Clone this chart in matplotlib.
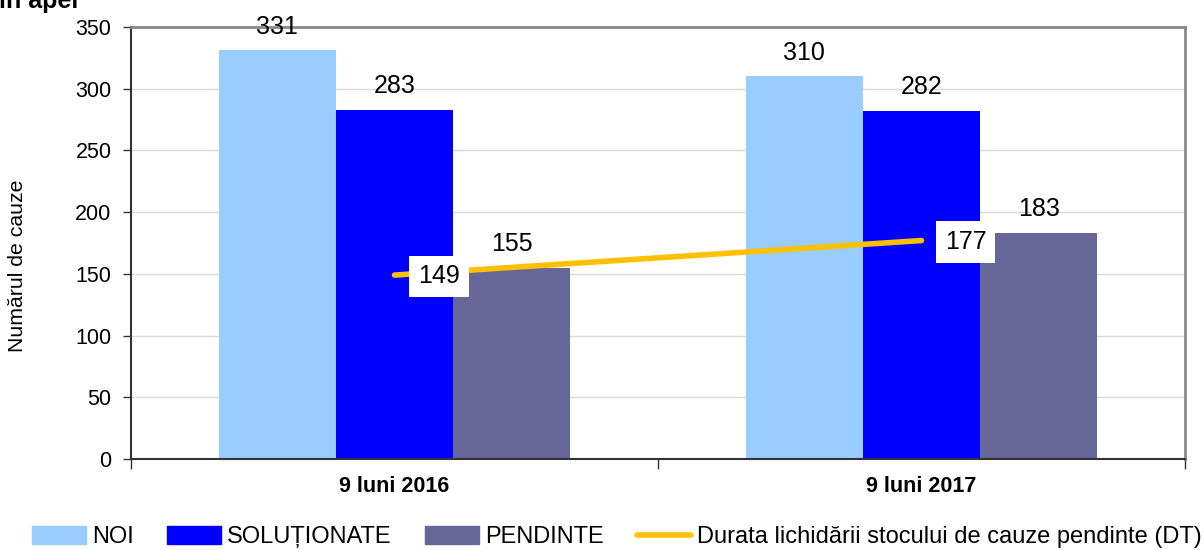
import matplotlib
matplotlib.use("Agg")
import matplotlib.pyplot as plt
import numpy as np
from matplotlib.lines import Line2D
from matplotlib.patches import Patch

plt.rcParams['font.family'] = ['Liberation Sans', 'DejaVu Sans']

categories = ["9 luni 2016", "9 luni 2017"]
noi = [331, 310]
solutionate = [283, 282]
pendinte = [155, 183]
durata = [149, 177]
series_names = ["NOI", "SOLUȚIONATE", "PENDINTE",
                "Durata lichidării stocului de cauze pendinte (DT)"]
yticks = [0, 50, 100, 150, 200, 250, 300, 350]

colors = ["#99CCFF", "#0000FF", "#666699"]
line_color = "#FFC000"

W, H = 1204, 550
fig = plt.figure(figsize=(W / 100, H / 100), dpi=100)
ax = fig.add_axes([131 / W, 1 - 459 / H, (1185 - 131) / W, (459 - 27) / H])

x = np.arange(len(categories)) + 0.5
bw = 117 / 526
for i, (vals, c) in enumerate(zip([noi, solutionate, pendinte], colors)):
    pos = x + (i - 1) * bw
    ax.bar(pos, vals, width=bw, color=c, zorder=2)
    for p, v in zip(pos, vals):
        ax.annotate(str(v), (p, v), xytext=(0, 12), textcoords="offset points",
                    ha="center", va="baseline", fontsize=18, color="black",
                    annotation_clip=False, zorder=5)

ax.plot(x, durata, color=line_color, lw=4, solid_capstyle="round", zorder=3)
for p, v in zip(x, durata):
    ax.annotate(str(v), (p, v), xytext=(17, -1), textcoords="offset points",
                ha="left", va="center", fontsize=18, color="black", zorder=6,
                bbox=dict(boxstyle="square,pad=0.35", fc="white", ec="none"))

ax.set_xlim(0, 2)
ax.set_ylim(0, 350)
ax.set_yticks(yticks)
ax.set_xticks(x)
ax.set_xticklabels(categories, fontweight="bold", fontsize=15.5)
ax.set_xticks([0, 1, 2], minor=True)
ax.tick_params(axis="x", which="major", length=0, pad=12)
ax.tick_params(axis="x", which="minor", length=7, width=1, color="#333333", direction="out")
ax.tick_params(axis="y", labelsize=15.5, length=6, width=1, color="#333333", direction="out", pad=8)
ax.yaxis.grid(True, color="#D9D9D9", lw=1, zorder=0)
ax.set_axisbelow(True)
ax.set_ylabel("Numărul de cauze", fontsize=15.3, va="center")
ax.yaxis.set_label_coords((18 - 131) / 1054, (459 - 266) / 432)

for s in ["top", "right"]:
    ax.spines[s].set_color("#888888")
    ax.spines[s].set_linewidth(2)
for s in ["left", "bottom"]:
    ax.spines[s].set_color("#333333")
    ax.spines[s].set_linewidth(1.5)

handles = [Patch(color=c) for c in colors] + [Line2D([0], [0], color=line_color, lw=4, solid_capstyle="round")]
fig.legend(handles, series_names, loc="center", bbox_to_anchor=(617 / W, 1 - 537 / H),
           ncol=4, frameon=False, fontsize=17, handlelength=2.3, handleheight=0.8,
           handletextpad=0.25, columnspacing=1.4, borderpad=0, borderaxespad=0)

fig.text(78 / W, 1 - 8 / H, "în apel", ha="right", va="baseline",
         fontsize=18, fontweight="bold")

fig.savefig("out.png", dpi=100)
